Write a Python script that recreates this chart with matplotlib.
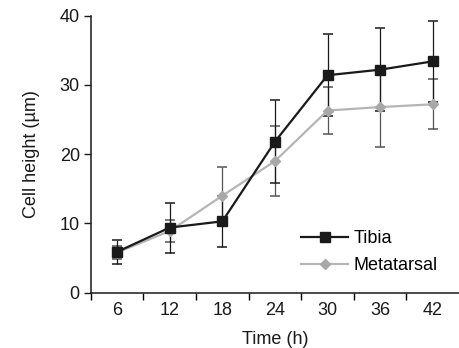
import matplotlib
matplotlib.use("Agg")
import matplotlib.pyplot as plt
import numpy as np

plt.rcParams['font.family'] = ['Liberation Sans', 'DejaVu Sans']

time_labels = ["6", "12", "18", "24", "30", "36", "42"]
tibia = [5.9, 9.4, 10.3, 21.8, 31.4, 32.2, 33.4]
tibia_err = [1.7, 3.6, 3.7, 6.0, 5.9, 6.0, 5.9]
meta = [5.8, 8.9, 14.0, 19.0, 26.3, 26.8, 27.2]
meta_err = [1.0, 1.6, 4.1, 5.0, 3.4, 5.7, 3.6]

fig = plt.figure(figsize=(4.59, 3.48), dpi=100)
ax = fig.add_axes([0.198, 0.159, 0.802, 0.796])

x = np.arange(1, len(time_labels) + 1)

ax.errorbar(x, meta, yerr=meta_err, fmt='none', ecolor='#555555',
            elinewidth=0.9, capsize=3.5, capthick=1.1, zorder=2)
ax.errorbar(x, tibia, yerr=tibia_err, fmt='none', ecolor='#1a1a1a',
            elinewidth=0.9, capsize=3.5, capthick=1.1, zorder=2)
ax.plot(x, tibia, color='#1a1a1a', lw=1.6, marker='s', ms=7.5,
        mfc='#1a1a1a', mec='#1a1a1a', label='Tibia', zorder=4)
ax.plot(x, meta, color='#b5b5b5', lw=1.6, marker='D', ms=5.5,
        mfc='#a8a8a8', mec='#a8a8a8', label='Metatarsal', zorder=3)

ax.set_xlim(0.5, 7.5)
ax.set_ylim(0, 40)
ax.set_yticks([0, 10, 20, 30, 40])
ax.set_xticks(np.arange(0.5, 7.0, 1.0))
ax.set_xticklabels([])
ax.set_xticks(x, minor=True)
ax.set_xticklabels(time_labels, minor=True)
ax.tick_params(axis='x', which='major', direction='out', length=5, width=1)
ax.tick_params(axis='x', which='minor', length=0, labelsize=13, pad=7, colors='#1a1a1a')
ax.tick_params(axis='y', direction='out', length=5, width=1, labelsize=13, pad=3, colors='#1a1a1a')

for s in ['top', 'right']:
    ax.spines[s].set_visible(False)
for s in ['left', 'bottom']:
    ax.spines[s].set_linewidth(1.1)
    ax.spines[s].set_color('#1a1a1a')

ax.set_xlabel('Time (h)', fontsize=13, labelpad=8, color='#1a1a1a')
ax.set_ylabel('Cell height (µm)', fontsize=13, labelpad=14, color='#1a1a1a')

ax.legend(loc='lower right', bbox_to_anchor=(0.986, 0.008), frameon=False,
          fontsize=13, handlelength=2.6, handletextpad=0.3, labelspacing=0.55)

fig.savefig('out.png', dpi=100)
